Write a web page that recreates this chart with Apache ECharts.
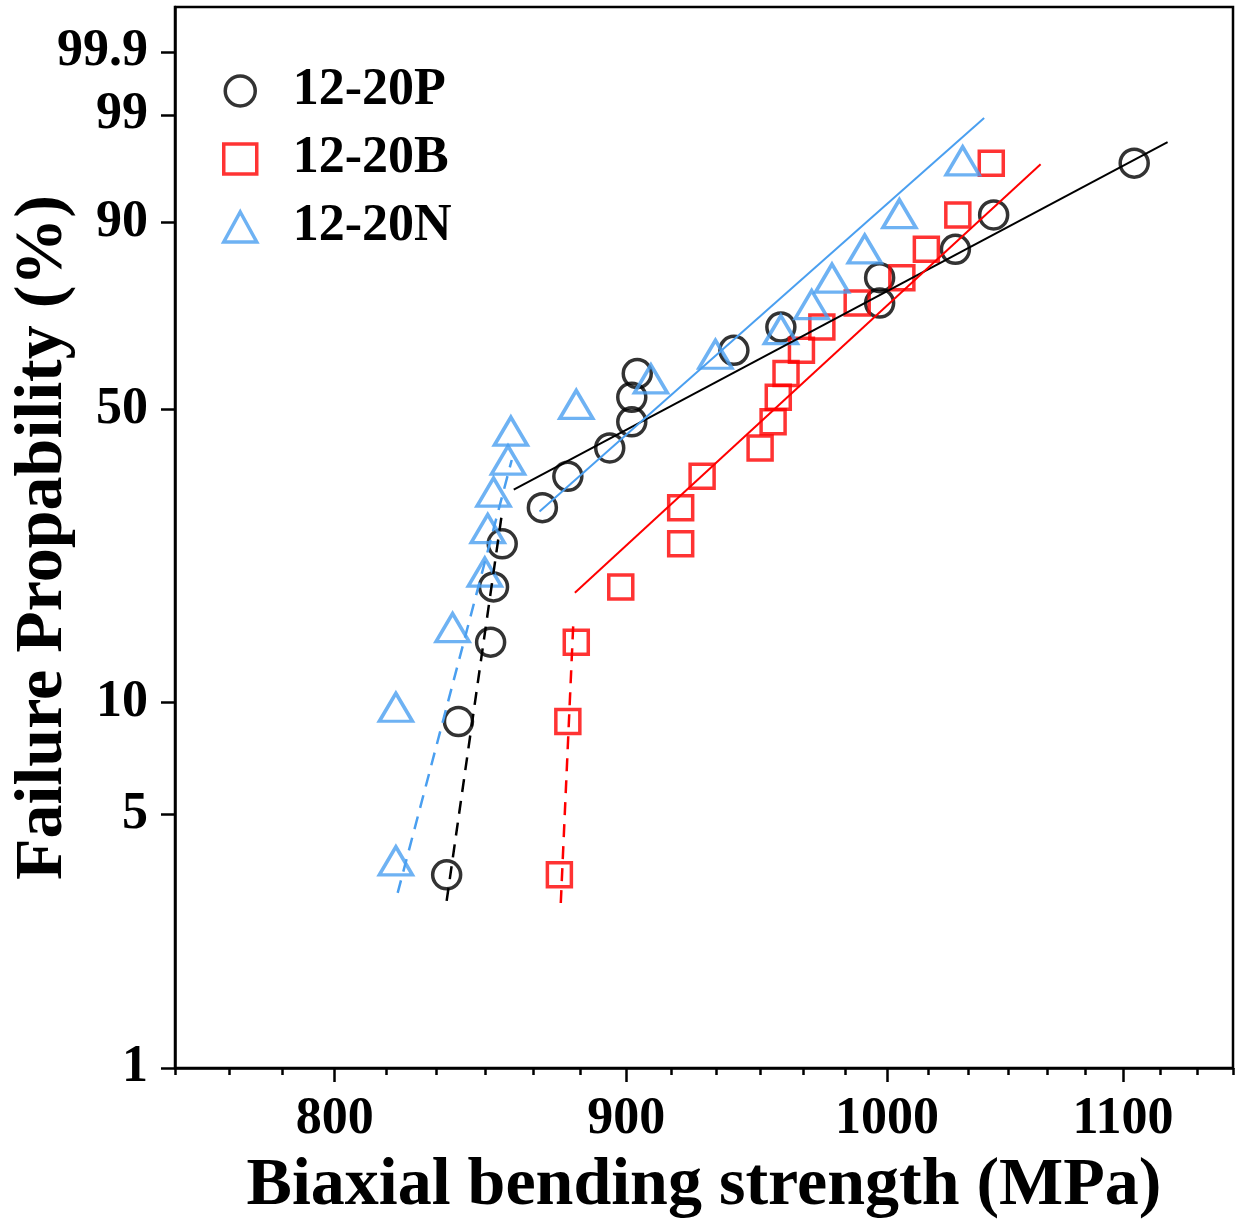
<!DOCTYPE html>
<html>
<head>
<meta charset="utf-8">
<script src="https://cdn.jsdelivr.net/npm/echarts@6/dist/echarts.min.js"></script>
<style>
  html, body { margin: 0; padding: 0; background: #fff; }
  #chart { width: 1235px; height: 1224px; }
</style>
</head>
<body>
<div id="chart"></div>
<script>
// Weibull plot: strength (MPa) vs failure probability (%)
const strengthP = [837, 841, 852, 853, 856, 870, 879, 894, 902, 902, 904, 940, 958, 997, 997, 1028, 1044, 1105]
const strengthB = [876, 879, 882, 898, 920, 920, 928, 950, 955, 957, 960, 966, 974, 988, 1006, 1016, 1029, 1043]
const strengthN = [820, 820, 839, 850, 851, 853, 858, 859, 882, 909, 933, 958, 970, 978, 991, 1005, 1031]

const probPB = [3.42, 8.90, 14.38, 19.86, 25.34, 30.82, 36.30, 41.78, 47.26, 52.74, 58.22, 63.70, 69.18, 74.66, 80.14, 85.62, 91.10, 96.58]
const probN = [3.62, 9.42, 15.22, 21.01, 26.81, 32.61, 38.41, 44.20, 50.00, 55.80, 61.59, 67.39, 73.19, 78.99, 84.78, 90.58, 96.38]

// fitted lines, end points [strength, probability]
const fitP = [[860, 33.9], [1120, 97.9]]
const fitPLow = [[837, 2.9], [856, 30.2]]
const fitB = [[881.5, 19.2], [1064, 96.5]]
const fitBLow = [[876.5, 2.86], [881, 16.4]]
const fitN = [[869, 30.2], [1040, 98.9]]
const fitNLow = [[820.6, 3.05], [859.3, 39.4]]

const xLabels = [800, 900, 1000, 1100]
const yLabels = [1, 5, 10, 50, 90, 99, 99.9]
const xRange = [750, 1150]
const yRange = [1, 99.99]

const FONT = '"Liberation Serif", "Times New Roman", serif'
const BLACK = '#000000'
const RED = '#ff0000'
const BLUE = '#4a9ff0'

// weibull transforms
const tx = s => Math.log(s)
const ty = f => Math.log(-Math.log(1 - f / 100))

const minorTicks = []
for (let v = xRange[0]; v <= xRange[1] + 0.01; v += 100 / 6) minorTicks.push(tx(v))

const toPoints = (xs, ys) => xs.map((s, i) => [tx(s), ty(ys[i])])
const toLine = pts => pts.map(p => [tx(p[0]), ty(p[1])])

const chart = echarts.init(document.getElementById('chart'))

const scatter = (name, symbol, size, color, data, extra) => Object.assign({
  name,
  type: 'scatter',
  symbol,
  symbolSize: size,
  data,
  z: 3,
  itemStyle: { color: 'rgba(0,0,0,0)', borderColor: color, borderWidth: 3.5 },
}, extra || {})

const fitLine = (color, data, dashed) => ({
  type: 'line',
  data,
  symbol: 'none',
  silent: true,
  z: 4,
  lineStyle: { color, width: dashed ? 2.5 : 2, type: dashed ? [13, 9] : 'solid' },
})

chart.setOption({
  backgroundColor: '#fff',
  animation: false,
  grid: {
    left: 175, right: 2, top: 7, bottom: 156,
    containLabel: false,
    outerBoundsMode: 'none',
    show: true, borderColor: BLACK, borderWidth: 2.5,
  },
  legend: {
    orient: 'vertical',
    left: 217, top: 60,
    itemWidth: 33, itemHeight: 30, itemGap: 16,
    data: ['12-20P', '12-20B', '12-20N'],
    itemStyle: { borderWidth: 3.5 },
    textStyle: {
      fontFamily: FONT, fontWeight: 'bold', fontSize: 52, color: BLACK,
      lineHeight: 50, padding: [0, 0, 0, 31],
    },
  },
  xAxis: [
    {
      type: 'value',
      min: tx(xRange[0]), max: tx(xRange[1]),
      name: 'Biaxial bending strength (MPa)',
      nameLocation: 'middle', nameGap: 84,
      nameTextStyle: { fontFamily: FONT, fontWeight: 'bold', fontSize: 68, color: BLACK },
      axisLine: { onZero: false, lineStyle: { color: BLACK, width: 2.5 } },
      axisTick: { customValues: xLabels.map(tx), length: 14, lineStyle: { width: 2.5, color: BLACK } },
      axisLabel: {
        customValues: xLabels.map(tx),
        formatter: v => String(Math.round(Math.exp(v))),
        margin: 26,
        fontFamily: FONT, fontWeight: 'bold', fontSize: 52, color: BLACK,
      },
      splitLine: { show: false },
    },
    {
      type: 'value',
      position: 'bottom',
      min: tx(xRange[0]), max: tx(xRange[1]),
      axisLine: { show: false, onZero: false },
      axisTick: { customValues: minorTicks, length: 7, lineStyle: { width: 2.5, color: BLACK } },
      axisLabel: { show: false },
      splitLine: { show: false },
    },
  ],
  yAxis: {
    type: 'value',
    min: ty(yRange[0]), max: ty(yRange[1]),
    name: 'Failure Propability (%)',
    nameLocation: 'middle', nameGap: 98,
    nameMoveOverlap: false,
    nameTextStyle: { fontFamily: FONT, fontWeight: 'bold', fontSize: 68, color: BLACK },
    axisLine: { onZero: false, lineStyle: { color: BLACK, width: 2.5 } },
    axisTick: { customValues: yLabels.map(ty), length: 14, lineStyle: { width: 2.5, color: BLACK } },
    axisLabel: {
      customValues: yLabels.map(ty),
      formatter: v => String(Math.round(1000 * (1 - Math.exp(-Math.exp(v)))) / 10),
      margin: 27,
      fontFamily: FONT, fontWeight: 'bold', fontSize: 52, color: BLACK,
    },
    splitLine: { show: false },
  },
  series: [
    scatter('12-20P', 'circle', 28, BLACK, toPoints(strengthP, probPB)),
    scatter('12-20B', 'rect', 24, RED, toPoints(strengthB, probPB)),
    scatter('12-20N', 'triangle', [33, 28], BLUE, toPoints(strengthN, probN), { symbolOffset: [0, -5] }),
    fitLine(BLACK, toLine(fitP), false),
    fitLine(BLACK, toLine(fitPLow), true),
    fitLine(RED, toLine(fitB), false),
    fitLine(RED, toLine(fitBLow), true),
    fitLine(BLUE, toLine(fitN), false),
    fitLine(BLUE, toLine(fitNLow), true),
  ],
})
</script>
</body>
</html>
